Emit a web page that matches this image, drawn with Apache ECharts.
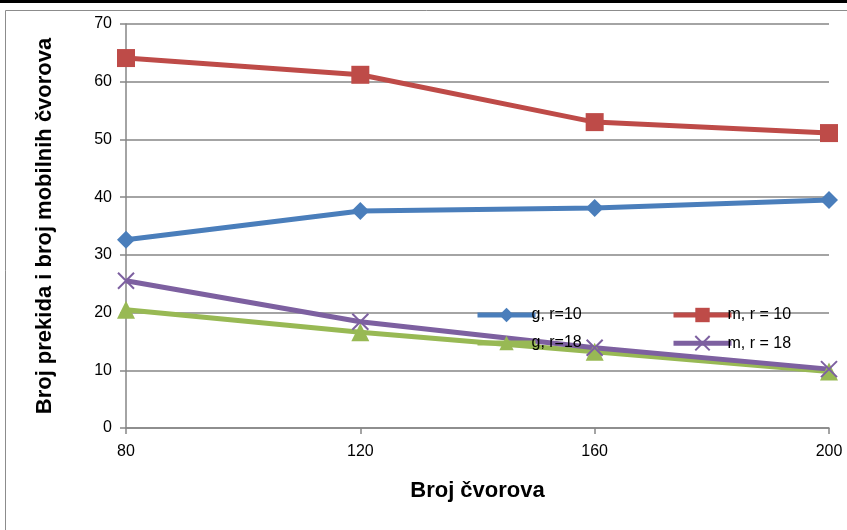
<!DOCTYPE html>
<html>
<head>
<meta charset="utf-8">
<script src="https://cdn.jsdelivr.net/npm/echarts@6/dist/echarts.min.js"></script>
<style>
  html, body { margin: 0; padding: 0; background: #fff; }
  #chart { width: 847px; height: 530px; }
</style>
</head>
<body>
<div id="chart"></div>
<script>
// Number of nodes on the x axis
const categories = ['80', '120', '160', '200'];

// Series values
const gR10 = [32.6, 37.6, 38.1, 39.5];
const mR10 = [64.1, 61.2, 53.0, 51.1];
const gR18 = [20.5, 16.6, 13.2, 9.8];
const mR18 = [25.5, 18.4, 13.9, 10.2];

const seriesNames = ['g, r=10', 'm, r = 10', 'g, r=18', 'm, r = 18'];

const yTitle = 'Broj prekida i broj mobilnih čvorova';
const xTitle = 'Broj čvorova';

const FONT = "'Liberation Sans', 'DejaVu Sans', sans-serif";
const crossPath = 'path://M0,0L10,10M10,0L0,10';

const chart = echarts.init(document.getElementById('chart'), null, { renderer: 'canvas' });

function lineSeries(name, data, color, symbol, size, extra) {
  return Object.assign({
    name: name,
    type: 'line',
    data: data,
    symbol: symbol,
    symbolSize: size,
    lineStyle: { color: color, width: 5 },
    itemStyle: { color: color },
    z: 3
  }, extra || {});
}

const legendBase = {
  orient: 'vertical', top: 302,
  itemWidth: 58, itemHeight: 18, itemGap: 12,
  lineStyle: { width: 5 },
  textStyle: { fontFamily: FONT, fontSize: 16, color: '#000', padding: [0, 0, 0, -9] }
};

chart.setOption({
  animation: false,
  backgroundColor: '#fff',
  graphic: [
    { type: 'rect', shape: { x: 0, y: 0, width: 847, height: 3 }, style: { fill: '#000' } },
    { type: 'rect', shape: { x: 5.5, y: 10.5, width: 860, height: 540 }, style: { fill: 'none', stroke: '#8c8c8c', lineWidth: 1 } }
  ],
  grid: { left: 126, right: 18, top: 24, bottom: 102 },
  legend: [
    Object.assign({ data: [seriesNames[0], seriesNames[2]], left: 470 }, legendBase),
    Object.assign({ data: [seriesNames[1], seriesNames[3]], left: 666 }, legendBase)
  ],
  xAxis: {
    type: 'category',
    data: categories,
    boundaryGap: false,
    name: xTitle,
    nameLocation: 'middle',
    nameGap: 52,
    nameTextStyle: { fontFamily: FONT, fontSize: 22, fontWeight: 'bold', color: '#000' },
    axisLine: { lineStyle: { color: '#868686', width: 1.5 } },
    axisTick: { show: true, alignWithLabel: true, length: 6, lineStyle: { color: '#868686', width: 1.5 } },
    axisLabel: { fontFamily: FONT, fontSize: 16, color: '#000', margin: 16 },
    splitLine: { show: false }
  },
  yAxis: {
    type: 'value',
    min: 0, max: 70, interval: 10,
    name: yTitle,
    nameLocation: 'middle',
    nameGap: 70,
    nameTextStyle: { fontFamily: FONT, fontSize: 22, fontWeight: 'bold', color: '#000' },
    axisLine: { show: true, lineStyle: { color: '#868686', width: 1.5 } },
    axisTick: { show: true, length: 6, lineStyle: { color: '#868686', width: 1.5 } },
    axisLabel: { fontFamily: FONT, fontSize: 16, color: '#000', margin: 14 },
    splitLine: { show: true, lineStyle: { color: '#868686', width: 1.5 } }
  },
  series: [
    lineSeries(seriesNames[0], gR10, '#4A7EBB', 'diamond', 18),
    lineSeries(seriesNames[1], mR10, '#BE4B48', 'rect', 18),
    lineSeries(seriesNames[2], gR18, '#98B954', 'triangle', 18),
    lineSeries(seriesNames[3], mR18, '#7D60A0', crossPath, 16, {
      itemStyle: { color: 'rgba(0,0,0,0)', borderColor: '#7D60A0', borderWidth: 2 }
    })
  ]
});
</script>
</body>
</html>
